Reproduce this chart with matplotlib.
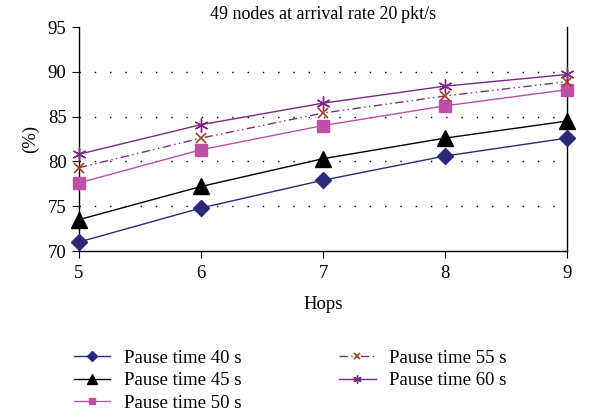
import matplotlib
matplotlib.use("Agg")
import matplotlib.pyplot as plt  # noqa: E402

plt.rcParams["font.family"] = ["Liberation Serif", "DejaVu Serif"]

hops = [5, 6, 7, 8, 9]
pause_40 = [71.0, 74.8, 77.9, 80.6, 82.6]
pause_45 = [73.5, 77.2, 80.3, 82.6, 84.5]
pause_50 = [77.6, 81.3, 84.0, 86.2, 88.0]
pause_55 = [79.3, 82.6, 85.4, 87.3, 88.9]
pause_60 = [80.8, 84.1, 86.5, 88.4, 89.7]
yticks = [70, 75, 80, 85, 90, 95]

fig = plt.figure(figsize=(6.11, 4.19), dpi=100)
ax = fig.add_axes([79 / 611, 1 - 251 / 419, (567 - 79) / 611, (251 - 27) / 419])

ax.plot(hops, pause_40, color="#2b2a78", lw=1.0, marker="D", ms=8,
        label="Pause time 40 s", clip_on=False, zorder=5)
ax.plot(hops, pause_45, color="black", lw=1.0, marker="^", ms=11,
        label="Pause time 45 s", clip_on=False, zorder=5)
ax.plot(hops, pause_50, color="#c04fa8", lw=1.0, marker="s", ms=8,
        markerfacecolor="#c04fa8", label="Pause time 50 s", clip_on=False, zorder=5)
ax.plot(hops, pause_55, color="#7a2e80", lw=1.0, ls=(0, (6, 2.5, 1, 2.5, 1, 2.5)),
        marker="x", ms=7, mew=1.2, markeredgecolor="#a8401e",
        label="Pause time 55 s", clip_on=False, zorder=5)
ax.plot(hops, pause_60, color="#7a2a82", lw=1.0, marker=(6, 2, 0), ms=10, mew=1.0,
        label="Pause time 60 s", clip_on=False, zorder=5)

ax.set_xlim(5, 9)
ax.set_ylim(70, 95)
ax.set_xticks(hops)
ax.set_yticks(yticks)
for y in yticks[1:-1]:
    ax.axhline(y, color="black", lw=1.0, ls=(0, (1, 10)), zorder=1)

ax.spines["top"].set_visible(False)
for s in ("left", "bottom", "right"):
    ax.spines[s].set_linewidth(1.0)
ax.tick_params(axis="both", direction="out", length=5, labelsize=13.5)
ax.tick_params(axis="x", pad=5)
ax.tick_params(axis="y", right=False, pad=4)

ax.set_title("49 nodes at arrival rate 20\u2009pkt/s", fontsize=13, pad=6)
ax.set_xlabel("Hops", fontsize=13.5, labelpad=10)
ax.set_ylabel("(%)", fontsize=13.5, labelpad=6)

fig.legend(loc="upper left", bbox_to_anchor=(57 / 611, 1 - 333 / 419), ncol=2,
           frameon=False, fontsize=13.5, handlelength=1.95, columnspacing=5.2,
           labelspacing=0.28, handletextpad=0.72, markerscale=0.6)

fig.savefig("out.png", dpi=100)
